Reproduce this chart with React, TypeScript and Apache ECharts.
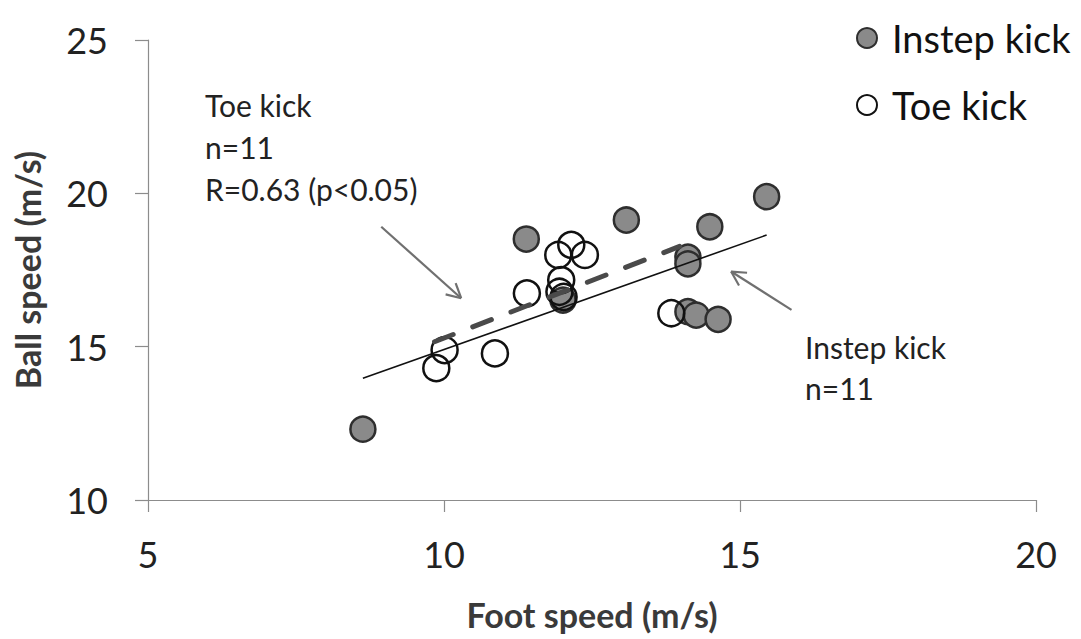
import React, { useEffect, useRef } from "react";
import * as echarts from "echarts";

const xTicks = { min: 5, max: 20, interval: 5 };
const yTicks = { min: 10, max: 25, interval: 5 };

const seriesNames = ["Instep kick", "Toe kick"];

// Foot speed (m/s), Ball speed (m/s)
const instepKick: number[][] = [
  [8.63, 12.31],
  [11.39, 18.51],
  [13.08, 19.13],
  [12.01, 16.52],
  [14.49, 18.91],
  [15.45, 19.89],
  [14.12, 17.92],
  [14.12, 17.7],
  [14.12, 16.14],
  [14.26, 16.03],
  [14.63, 15.89],
];

const toeKick: number[][] = [
  [9.87, 14.3],
  [10.01, 14.89],
  [10.86, 14.78],
  [11.4, 16.74],
  [11.93, 17.99],
  [12.15, 18.32],
  [12.38, 17.99],
  [11.98, 17.17],
  [11.95, 16.79],
  [12.02, 16.62],
  [13.84, 16.09],
];

const instepFit: number[][] = [
  [8.63, 13.97],
  [15.45, 18.64],
];

const toeFit: number[][] = [
  [9.84, 15.16],
  [13.98, 18.27],
];

// arrows: [fromX, fromY, toX, toY]
const arrows: number[][] = [
  [8.94, 18.91, 10.29, 16.58],
  [15.87, 16.2, 14.85, 17.45],
];

const toeNote = ["Toe kick", "n=11", "R=0.63 (p<0.05)"];
const instepNote = ["Instep kick", "n=11"];

const FONT = "Lato";

export default function App() {
  const ref = useRef<HTMLDivElement>(null);

  useEffect(() => {
    document.body.style.margin = "0";
    const chart = echarts.init(ref.current!, null, { renderer: "svg" });
    const axisColor = "#8c8c8c";
    chart.setOption({
      animation: false,
      backgroundColor: "#ffffff",
      grid: { left: 148, right: 45, top: 40, bottom: 139, containLabel: false },
      legend: {
        data: seriesNames,
        orient: "vertical",
        left: 851,
        top: 13,
        itemWidth: 20,
        itemHeight: 20,
        itemGap: 27,
        icon: "circle",
        textStyle: { fontFamily: FONT, fontSize: 38, color: "#111", lineHeight: 40, padding: [0, 0, 0, 10] },
      },
      xAxis: {
        type: "value",
        min: xTicks.min,
        max: xTicks.max,
        interval: xTicks.interval,
        name: "Foot speed (m/s)",
        nameLocation: "middle",
        nameGap: 97,
        nameTextStyle: { fontFamily: FONT, fontSize: 34, fontWeight: "bold", color: "#3a3a3a" },
        axisLine: { show: true, lineStyle: { color: axisColor, width: 1.2 } },
        axisTick: { show: true, length: 12, lineStyle: { color: axisColor, width: 1.2 } },
        axisLabel: { fontFamily: FONT, fontSize: 36, color: "#222", margin: 36 },
        splitLine: { show: false },
      },
      yAxis: {
        type: "value",
        min: yTicks.min,
        max: yTicks.max,
        interval: yTicks.interval,
        name: "Ball speed (m/s)",
        nameLocation: "middle",
        nameGap: 104,
        nameTextStyle: { fontFamily: FONT, fontSize: 34, fontWeight: "bold", color: "#3a3a3a" },
        axisLine: { show: true, lineStyle: { color: axisColor, width: 1.2 } },
        axisTick: { show: true, length: 13, lineStyle: { color: axisColor, width: 1.2 } },
        axisLabel: { fontFamily: FONT, fontSize: 36, color: "#222", margin: 40 },
        splitLine: { show: false },
      },
      graphic: [
        {
          type: "text",
          x: 205,
          y: 84,
          silent: true,
          style: {
            text: toeNote.join("\n"),
            fontFamily: FONT,
            fontSize: 30,
            lineHeight: 42,
            fill: "#222",
            verticalAlign: "top",
          },
        },
        {
          type: "text",
          x: 805,
          y: 326,
          silent: true,
          style: {
            text: instepNote.join("\n"),
            fontFamily: FONT,
            fontSize: 30,
            lineHeight: 41,
            fill: "#222",
            verticalAlign: "top",
          },
        },
      ],
      series: [
        {
          name: "Instep fit",
          type: "line",
          data: instepFit,
          showSymbol: false,
          symbol: "none",
          silent: true,
          lineStyle: { color: "#111", width: 1.6 },
        },
        {
          name: "Toe fit",
          type: "line",
          data: toeFit,
          showSymbol: false,
          symbol: "none",
          silent: true,
          lineStyle: { color: "#4a4a4a", width: 5, type: [20, 21], cap: "round" },
        },
        {
          name: "Instep kick",
          type: "scatter",
          data: instepKick,
          symbol: "circle",
          symbolSize: 25,
          itemStyle: { color: "#8a8a8a", borderColor: "#2e2e2e", borderWidth: 2.5, opacity: 1 },
        },
        {
          name: "Toe kick",
          type: "scatter",
          data: toeKick,
          symbol: "circle",
          symbolSize: 26,
          itemStyle: { color: "rgba(255,255,255,0)", borderColor: "#111", borderWidth: 2.5, opacity: 1 },
        },
        {
          name: "Arrows",
          type: "custom",
          silent: true,
          data: arrows,
          encode: { x: [0, 2], y: [1, 3] },
          renderItem: (params: any, api: any) => {
            const p1 = api.coord([api.value(0), api.value(1)]);
            const p2 = api.coord([api.value(2), api.value(3)]);
            const ang = Math.atan2(p2[1] - p1[1], p2[0] - p1[0]);
            const head = 16;
            const spread = (28 * Math.PI) / 180;
            const a1 = ang + Math.PI - spread;
            const a2 = ang + Math.PI + spread;
            const style = { stroke: "#707070", lineWidth: 2.2 };
            return {
              type: "group",
              children: [
                { type: "line", shape: { x1: p1[0], y1: p1[1], x2: p2[0], y2: p2[1] }, style },
                {
                  type: "line",
                  shape: { x1: p2[0], y1: p2[1], x2: p2[0] + head * Math.cos(a1), y2: p2[1] + head * Math.sin(a1) },
                  style,
                },
                {
                  type: "line",
                  shape: { x1: p2[0], y1: p2[1], x2: p2[0] + head * Math.cos(a2), y2: p2[1] + head * Math.sin(a2) },
                  style,
                },
              ],
            };
          },
        },
      ],
    });
    return () => chart.dispose();
  }, []);

  return (
    <div
      ref={ref}
      style={{ position: "absolute", left: 0, top: 0, width: 1081, height: 639, background: "#fff" }}
    />
  );
}
